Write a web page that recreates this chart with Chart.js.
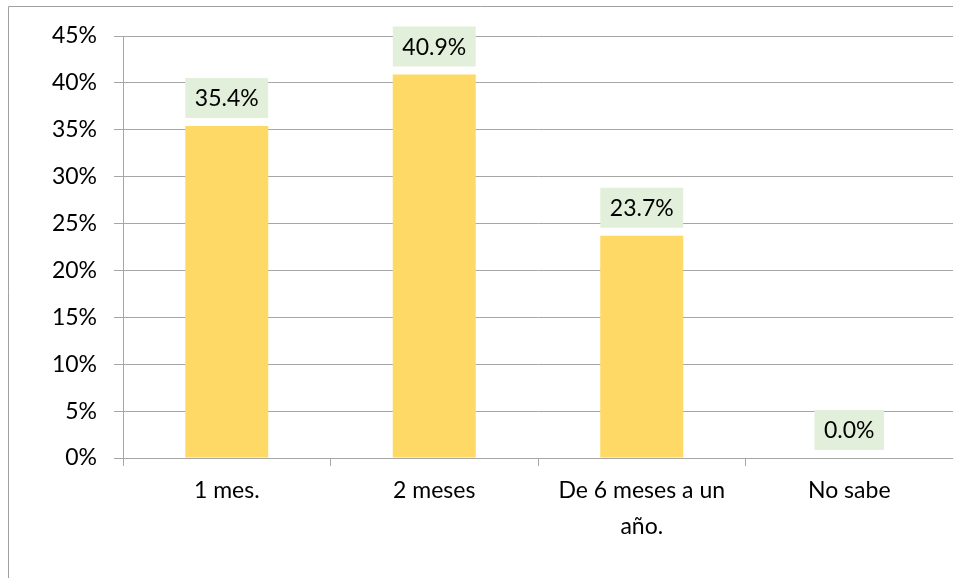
<!DOCTYPE html>
<html>
<head>
<meta charset="utf-8">
<script src="https://cdn.jsdelivr.net/npm/chart.js@4"></script>
<style>
  body { margin: 0; background: #fff; }
</style>
</head>
<body>
<canvas id="myChart" width="953" height="578"></canvas>
<script>
const categories = ['1 mes.', '2 meses', ['De 6 meses a un', 'año.'], 'No sabe'];
const values = [35.4, 40.9, 23.7, 0.0];
const yMax = 45;
const yStep = 5;

const gridColor = '#a6a6a6';

// marco gris del gráfico
const frame = {
  id: 'frame',
  beforeDraw(chart) {
    const c = chart.ctx;
    c.save();
    c.strokeStyle = '#a0a0a0';
    c.lineWidth = 1;
    c.beginPath();
    c.moveTo(8.5, chart.height);
    c.lineTo(8.5, 6.5);
    c.lineTo(chart.width, 6.5);
    c.stroke();
    c.restore();
  }
};

// etiquetas de datos con fondo verde claro
const dataLabels = {
  id: 'dataLabels',
  afterDatasetsDraw(chart) {
    const c = chart.ctx;
    const meta = chart.getDatasetMeta(0);
    c.save();
    c.font = '23px Lato';
    c.textAlign = 'center';
    c.textBaseline = 'middle';
    meta.data.forEach((bar, i) => {
      const txt = values[i].toFixed(1) + '%';
      const w = c.measureText(txt).width + 19;
      const h = 40;
      const bottom = bar.y - 8;
      c.fillStyle = '#e2efda';
      c.fillRect(bar.x - w / 2, bottom - h, w, h);
      c.fillStyle = '#000';
      c.fillText(txt, bar.x, bottom - h / 2 + 1);
    });
    c.restore();
  }
};

Chart.defaults.font.family = 'Lato';
Chart.defaults.font.size = 23;
Chart.defaults.color = '#000';

new Chart(document.getElementById('myChart'), {
  type: 'bar',
  data: {
    labels: categories,
    datasets: [{
      data: values,
      backgroundColor: '#ffd966',
      borderWidth: 0,
      barPercentage: 0.4,
      categoryPercentage: 1
    }]
  },
  options: {
    responsive: false,
    animation: false,
    layout: { padding: { top: 36, left: 0, right: 0, bottom: 0 } },
    plugins: {
      legend: { display: false },
      tooltip: { enabled: false }
    },
    scales: {
      x: {
        grid: {
          offset: true,
          drawOnChartArea: false,
          color: gridColor,
          tickLength: 8
        },
        border: { color: gridColor },
        ticks: {
          padding: 7,
          maxRotation: 0,
          autoSkip: false,
          font: { size: 23, lineHeight: 1.55 }
        },
        afterFit(scale) { scale.height = 120; }
      },
      y: {
        min: 0,
        max: yMax,
        grid: { color: gridColor, tickLength: 9 },
        border: { color: gridColor },
        ticks: {
          stepSize: yStep,
          padding: 17,
          callback: v => v + '%'
        },
        afterFit(scale) { scale.width = 123; }
      }
    }
  },
  plugins: [frame, dataLabels]
});
</script>
</body>
</html>
